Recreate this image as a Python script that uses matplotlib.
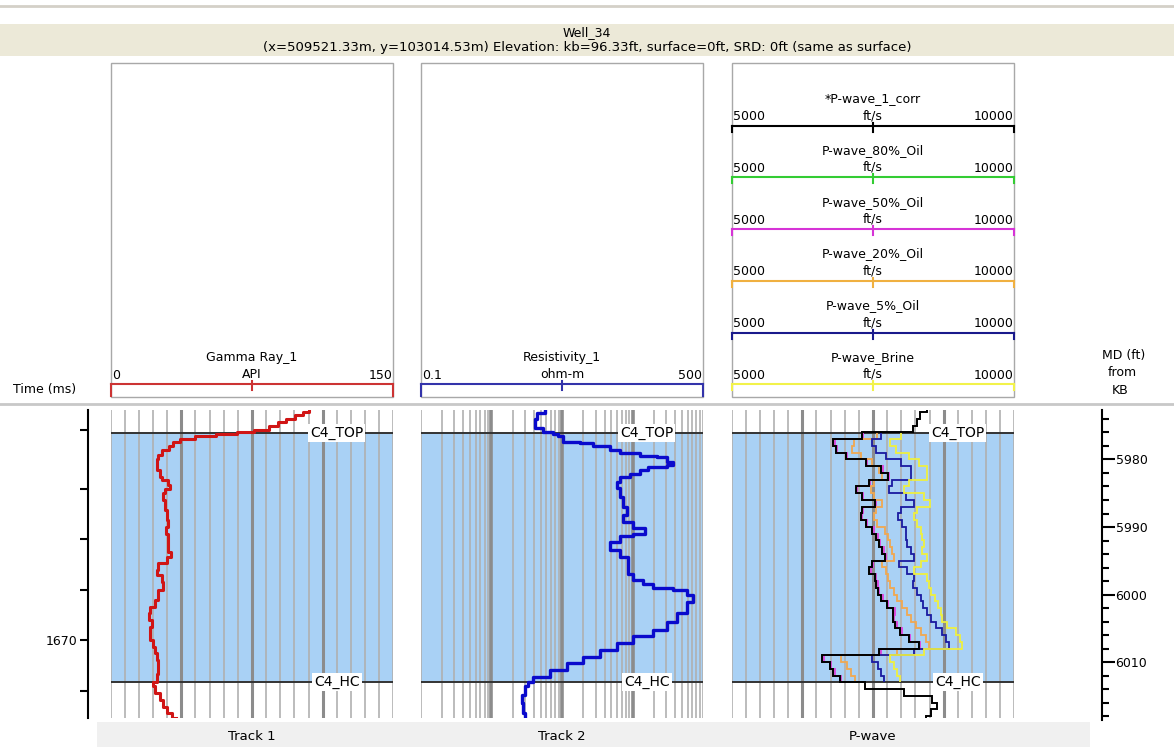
import numpy as np
import matplotlib.pyplot as plt
import matplotlib.transforms as mtransforms
from matplotlib.patches import Rectangle

plt.rcParams['font.family'] = 'DejaVu Sans'

W, H = 1174, 747

#Header text
well_name = "Well_34"
well_info = "(x=509521.33m, y=103014.53m) Elevation: kb=96.33ft, surface=0ft, SRD: 0ft (same as surface)"
track_names = ["Track 1", "Track 2", "P-wave"]

#Formation tops (MD ft)
top_names = ["C4_TOP", "C4_HC"]
top_md = [5976.1, 6012.9]

#Time-depth pairs (ms -> MD ft) for the time axis
td_time = [1666, 1667, 1668, 1669, 1670, 1671]
td_md = [5975.6, 5984.4, 5991.8, 5999.3, 6006.8, 6014.3]

#Gamma ray (API)
gr_md = [5972.7, 5973.0, 5973.5, 5974.0, 5974.5, 5975.0, 5975.6, 5975.9, 5976.2, 5976.5,
         5977.0, 5977.5, 5978.0, 5978.6, 5979.4, 5980.0, 5980.6, 5981.6, 5982.6, 5983.1,
         5983.8, 5984.4, 5985.0, 5986.0, 5987.5, 5989.0, 5990.0, 5991.0, 5992.4, 5993.7,
         5994.4, 5995.4, 5996.4, 5997.1, 5998.1, 5999.3, 6000.8, 6001.8, 6002.8, 6003.8,
         6004.8, 6005.7, 6006.7, 6007.7, 6008.7, 6009.7, 6010.7, 6011.7, 6012.9, 6013.6,
         6014.6, 6015.6, 6016.6, 6017.6, 6018.3]
gr_api = [105, 102, 98, 93, 89, 84, 76, 67, 56, 45,
          37, 33, 31, 27, 25.3, 24.5, 24.4, 26, 27, 30.6,
          31.5, 28.8, 27.6, 28.8, 30, 30.6, 29.4, 30.6, 30.6, 32,
          30, 25.3, 24.4, 27, 28, 25.3, 23.5, 20.9, 20.5, 21.8,
          20.9, 20.9, 22.3, 23.5, 24.4, 25.3, 25.3, 24.4, 22.6, 23.5,
          26, 28, 29.7, 32.4, 34.7]

#Resistivity (ohm-m)
res_md = [5972.8, 5973.2, 5974.0, 5974.9, 5975.4, 5975.9, 5976.2, 5976.55, 5977.4, 5977.6,
          5978.1, 5978.6, 5979.0, 5979.5, 5979.7, 5980.35, 5980.8, 5981.1, 5981.6, 5982.1,
          5982.6, 5983.3, 5984.3, 5985.5, 5987.0, 5988.2, 5989.2, 5990.2, 5991.0, 5991.4,
          5992.2, 5992.9, 5993.4, 5994.4, 5995.9, 5996.9, 5997.9, 5998.4, 5999.1, 5999.4,
          6000.1, 6001.1, 6002.8, 6004.0, 6005.3, 6006.2, 6007.2, 6008.2, 6009.2, 6010.2,
          6011.2, 6012.2, 6012.9, 6013.6, 6014.9, 6016.1, 6017.6, 6018.3]
res_ohmm = [5.74, 4.38, 4.15, 4.15, 5.44, 7.54, 8.87, 10.4, 17.9, 27.8,
            47.8, 66.2, 127, 219, 303, 376, 303, 167, 127, 91.6,
            66.2, 59.4, 66.2, 73.8, 82.2, 73.8, 102, 150, 102, 66.2,
            47.8, 47.8, 66.2, 86.9, 86.9, 102, 141.6, 196, 376, 581,
            721, 581, 420, 303, 196, 102, 59.4, 34.5, 20.0, 11.6,
            6.76, 3.93, 3.34, 2.99, 2.69, 2.84, 2.99, 2.99]

#P-wave logs (ft/s), blocky samples
pw_edges = [5972.7, 5973, 5974, 5975, 5976, 5977, 5978, 5979, 5980, 5981, 5982, 5983, 5984,
            5985, 5986, 5987, 5988, 5989, 5990, 5991, 5992, 5993, 5994, 5995, 5996, 5997,
            5998, 5999, 6000, 6001, 6002, 6003, 6004, 6005, 6006, 6007, 6008, 6009, 6010,
            6011, 6012, 6013, 6014, 6015, 6016, 6017, 6018, 6018.3]
pw_corr = [8460, 8340, 8285, 8210, 7300, 6800, 6840, 7015, 7380, 7650, 7760, 7430, 7200,
           7300, 7530, 7300, 7290, 7370, 7490, 7560, 7600, 7660, 7710, 7480, 7430, 7530,
           7550, 7580, 7650, 7740, 7860, 7850, 7895, 7980, 8130, 8310, 7600, 6600, 6735,
           6795, 6910, 7350, 8050, 8550, 8640, 8520, 8440]

fs_edges = [5976, 5977, 5978, 5979, 5980, 5981, 5982, 5983, 5984, 5985, 5986, 5987, 5988,
            5989, 5990, 5991, 5992, 5993, 5994, 5995, 5996, 5997, 5998, 5999, 6000, 6001,
            6002, 6003, 6004, 6005, 6006, 6007, 6008, 6009, 6010, 6011, 6012, 6013]
pw_oil80 = [7310, 6815, 6855, 7025, 7390, 7660, 7765, 7440, 7210, 7310, 7540, 7310, 7300,
            7380, 7500, 7570, 7610, 7675, 7720, 7490, 7445, 7545, 7565, 7595, 7665, 7755,
            7875, 7865, 7910, 7995, 8145, 8320, 7620, 6615, 6750, 6810, 6925]
pw_oil50 = [7320, 6830, 6870, 7040, 7400, 7670, 7775, 7450, 7220, 7320, 7550, 7320, 7310,
            7395, 7510, 7585, 7625, 7690, 7735, 7505, 7460, 7560, 7580, 7610, 7680, 7770,
            7890, 7880, 7925, 8010, 8160, 8335, 7640, 6630, 6765, 6830, 6940]
pw_oil20 = [7576, 7163, 7134, 7281, 7488, 7606, 7665, 7517, 7458, 7517, 7665, 7547, 7517,
            7576, 7706, 7765, 7800, 7842, 7871, 7665, 7724, 7765, 7800, 7871, 7930, 8019,
            8095, 8166, 8255, 8343, 8432, 8491, 7930, 6927, 7045, 7104, 7175]
pw_oil5 = [7635, 7487, 7546, 7724, 7989, 8166, 8166, 7842, 7783, 8078, 8225, 7989, 7942,
           8019, 8078, 8078, 8107, 8166, 8225, 7960, 8107, 8225, 8213, 8284, 8355, 8390,
           8449, 8520, 8609, 8727, 8786, 8845, 8225, 7487, 7588, 7635, 7694]
pw_brine = [7989, 7800, 7900, 8136, 8314, 8461, 8461, 8136, 8048, 8402, 8508, 8284, 8225,
            8272, 8355, 8373, 8402, 8373, 8449, 8343, 8225, 8449, 8491, 8532, 8591, 8650,
            8697, 8727, 8815, 8963, 9039, 9081, 8402, 7800, 7871, 7930, 7977]

pw_names = ["*P-wave_1_corr", "P-wave_80%_Oil", "P-wave_50%_Oil", "P-wave_20%_Oil",
            "P-wave_5%_Oil", "P-wave_Brine"]
pw_colors = ["#000000", "#33cc33", "#d633d6", "#f0b040", "#1a1a8c", "#f2f24a"]

#Scales
gr_scale = (0, 150)
res_scale = (0.1, 500)
pw_scale = (5000, 10000)

#Layout (pixels)
TRACK_X = [(110.7, 393.3), (420.7, 703.3), (731.7, 1014.3)]
Y_TOP, Y_BOT = 410, 718
MD_TOP, MD_BOT = 5972.7, 6018.27


def axes_px(x0, y0, x1, y1, **kw):
    return fig.add_axes([x0 / W, 1 - y1 / H, (x1 - x0) / W, (y1 - y0) / H], **kw)


fig = plt.figure(figsize=(W / 100, H / 100), dpi=100)

#Background overlay in pixel coordinates
ov = axes_px(0, 0, W, H, zorder=0)
ov.set_xlim(0, W)
ov.set_ylim(H, 0)
ov.axis('off')

ov.plot([0, W], [6, 6], color='#d4d0c8', lw=2)
ov.add_patch(Rectangle((0, 24), W, 32, facecolor='#ece9d8', edgecolor='none'))
ov.text(W / 2, 33, well_name, ha='center', va='center', fontsize=9)
ov.text(W / 2, 47, well_info, ha='center', va='center', fontsize=9.5)
ov.plot([0, W], [403.5, 403.5], color='#c8c8c8', lw=2)
ov.add_patch(Rectangle((97, 722), 993, 25, facecolor='#f0f0f0', edgecolor='none'))

for (x0, x1) in TRACK_X:
    ov.add_patch(Rectangle((x0, 63), x1 - x0, 334, fill=False, edgecolor='#a8a8a8', lw=1))


def header_scale(x0, x1, y, name, unit, lo, hi, color, end_tick):
    ov.plot([x0, x1], [y, y], color=color, lw=1.5)
    for xx in (x0, x1):
        ov.plot([xx, xx], [y, y + end_tick], color=color, lw=1.5)
    xm = (x0 + x1) / 2
    ov.plot([xm, xm], [y - 3, y + 6], color=color, lw=1.5)
    ov.text(xm, y - 27, name, ha='center', va='center', fontsize=9)
    ov.text(xm, y - 10, unit, ha='center', va='center', fontsize=9)
    ov.text(x0 + 1, y - 9, lo, ha='left', va='center', fontsize=9)
    ov.text(x1 - 1, y - 9, hi, ha='right', va='center', fontsize=9)


header_scale(*TRACK_X[0], 384.3, "Gamma Ray_1", "API", f"{gr_scale[0]:g}",
             f"{gr_scale[1]:g}", '#cc3333', 12)
header_scale(*TRACK_X[1], 384.3, "Resistivity_1", "ohm-m", f"{res_scale[0]:g}",
             f"{res_scale[1]:g}", '#3333aa', 12)
for k, (nm, col) in enumerate(zip(pw_names, pw_colors)):
    header_scale(*TRACK_X[2], 125.7 + 51.72 * k, nm, "ft/s", f"{pw_scale[0]:g}",
                 f"{pw_scale[1]:g}", col, 6)

ov.text(13, 390, "Time (ms)", ha='left', va='center', fontsize=9)
ov.text(1124, 356, "MD (ft)", ha='center', va='center', fontsize=9)
ov.text(1122, 373, "from", ha='center', va='center', fontsize=9)
ov.text(1120, 390, "KB", ha='center', va='center', fontsize=9)

for (x0, x1), nm in zip(TRACK_X, track_names):
    ov.text((x0 + x1) / 2, 737, nm, ha='center', va='center', fontsize=9.5)

#Tracks
tracks = []
for (x0, x1) in TRACK_X:
    ax = axes_px(x0, Y_TOP, x1, Y_BOT, zorder=1)
    ax.set_ylim(MD_BOT, MD_TOP)
    for s in ax.spines.values():
        s.set_visible(False)
    ax.axhspan(top_md[0], top_md[1], color='#a9d1f5', zorder=0, lw=0)
    tracks.append(ax)

ax1, ax2, ax3 = tracks
ax1.set_xlim(*gr_scale)
ax2.set_xscale('log')
ax2.set_xlim(0.1, 1000)
ax3.set_xlim(*pw_scale)
for ax in tracks:
    ax.tick_params(which='both', left=False, bottom=False, labelleft=False,
                   labelbottom=False)

for ax, lo, hi in [(ax1, *gr_scale), (ax3, *pw_scale)]:
    for i, v in enumerate(np.linspace(lo, hi, 21)):
        major = i in (5, 10, 15)
        ax.axvline(v, color='#8c8c8c' if major else '#b0b0b0', lw=2.2 if major else 1.2,
                   zorder=1)

for dec in [0.1, 1, 10, 100]:
    for m in range(1, 10):
        v = dec * m
        major = m == 1 and dec in (1, 10, 100)
        ax2.axvline(v, color='#8c8c8c' if major else '#b0b0b0', lw=2.6 if major else 1.2,
                    zorder=1)
ax2.axvline(1000, color='#b0b0b0', lw=1.2, zorder=1)

for ax in tracks:
    tr = mtransforms.blended_transform_factory(ax.transAxes, ax.transData)
    for nm, md in zip(top_names, top_md):
        ax.axhline(md, color='#333333', lw=1.4, zorder=2)
        ax.text(0.8, md, nm, transform=tr, ha='center', va='center', fontsize=10, zorder=4,
                bbox=dict(facecolor='white', edgecolor='none', pad=1.5))

ax1.plot(gr_api, gr_md, color='#d01515', lw=2.2, drawstyle='steps-pre', zorder=3)
ax2.plot(res_ohmm, res_md, color='#0a0acc', lw=2.4, drawstyle='steps-pre', zorder=3)

for vals, col in zip([pw_oil80, pw_oil50, pw_oil20, pw_oil5, pw_brine],
                     ["#33cc33", "#e040e0", "#f0a850", "#1a1aa0", "#eef040"]):
    ax3.stairs(vals, fs_edges, orientation='horizontal', baseline=None, color=col, lw=1.3,
               zorder=3)
ax3.stairs(pw_corr, pw_edges, orientation='horizontal', baseline=None, color='black', lw=1.4,
           zorder=3.5)

#Time axis (left)
ax_t = axes_px(88.3, Y_TOP, 89.3, Y_BOT, zorder=1)
ax_t.set_ylim(MD_BOT, MD_TOP)
ax_t.set_xticks([])
for s in ['top', 'bottom', 'right']:
    ax_t.spines[s].set_visible(False)
ax_t.spines['left'].set_linewidth(1.5)
ax_t.set_yticks(np.interp(td_time, td_time, td_md))
ax_t.set_yticklabels([str(t) if t % 5 == 0 else "" for t in td_time])
ax_t.tick_params(axis='y', direction='out', length=6, width=1.5, labelsize=9, pad=2)
ax_t.patch.set_visible(False)

#Depth axis (right)
ax_d = axes_px(1100.7, Y_TOP, 1101.7, 720, zorder=1)
ax_d.set_ylim(MD_BOT + 1.7 / 6.76, MD_TOP)
ax_d.set_xticks([])
for s in ['top', 'bottom', 'left']:
    ax_d.spines[s].set_visible(False)
ax_d.spines['right'].set_linewidth(1.5)
ax_d.yaxis.tick_right()
ax_d.set_yticks(np.arange(5980, 6011, 10))
ax_d.set_yticks(np.arange(5974, 6019, 2), minor=True)
ax_d.tick_params(axis='y', which='major', direction='out', length=9, width=1.5, labelsize=9,
                 pad=1)
ax_d.tick_params(axis='y', which='minor', direction='out', length=5, width=1.5)
ax_d.patch.set_visible(False)

fig.savefig("out.png", dpi=100)
